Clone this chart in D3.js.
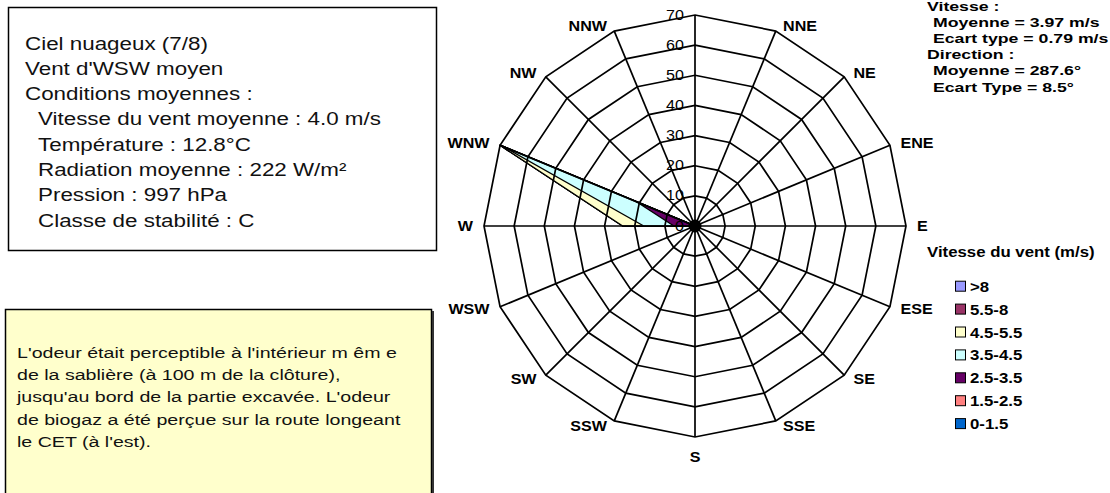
<!DOCTYPE html>
<html>
<head>
<meta charset="utf-8">
<script src="https://cdn.jsdelivr.net/npm/d3@7"></script>
<style>
body { margin: 0; background: #fff; }
text { font-family: Arial, "Liberation Sans", sans-serif; fill: #000; }
</style>
</head>
<body>
<svg id="chart" width="1110" height="493"></svg>
<script>
// data

var directions = ["N","NNE","NE","ENE","E","ESE","SE","SSE","S","SSW","SW","WSW","W","WNW","NW","NNW"];
var speedClasses = [">8","5.5-8","4.5-5.5","3.5-4.5","2.5-3.5","1.5-2.5","0-1.5"];
var classColors = ["#9999ff","#993366","#ffffcc","#ccffff","#660066","#ff8080","#0066cc"];

// cumulative frequencies (%) by direction, largest class first
var cumOver8  = [0,0,0,0,0,0,0,0,0,0,0,0,24,70,0,0];
var cum55to8  = [0,0,0,0,0,0,0,0,0,0,0,0,24,70,0,0];
var cum45to55 = [0,0,0,0,0,0,0,0,0,0,0,0,24,70,0,0];
var cum35to45 = [0,0,0,0,0,0,0,0,0,0,0,0,17,69,0,0];
var cum25to35 = [0,0,0,0,0,0,0,0,0,0,0,0,7,21,0,0];
var cum15to25 = [0,0,0,0,0,0,0,0,0,0,0,0,0,0,0,0];
var cum0to15  = [0,0,0,0,0,0,0,0,0,0,0,0,0,0,0,0];
var classSeries = [cumOver8, cum55to8, cum45to55, cum35to45, cum25to35, cum15to25, cum0to15];

var radialTicks = [0,10,20,30,40,50,60,70];

var weatherLines = [
  "Ciel nuageux (7/8)",
  "Vent d'WSW moyen",
  "Conditions moyennes :",
  " Vitesse du vent moyenne : 4.0 m/s",
  " Température : 12.8°C",
  " Radiation moyenne : 222 W/m²",
  " Pression : 997 hPa",
  " Classe de stabilité : C"
];

var odourLines = [
  "L'odeur était perceptible à l'intérieur m êm e",
  "de la sablière (à 100 m de la clôture),",
  "jusqu'au bord de la partie excavée. L'odeur",
  "de biogaz a été perçue sur la route longeant",
  "le CET (à l'est)."
];

var statsLines = [
  "Vitesse :",
  " Moyenne = 3.97 m/s",
  " Ecart type = 0.79 m/s",
  "Direction :",
  " Moyenne = 287.6°",
  " Ecart Type = 8.5°"
];

var legendTitle = "Vitesse du vent (m/s)";

// globals

var svg = d3.select("#chart");
var cx = 695, cy = 226;
var rScale = d3.scaleLinear().domain([0, 70]).range([0, 211]);
var angleOf = function(i) { return i * 2 * Math.PI / directions.length; };

// text stretched horizontally like the original

function wideText(parent, x, y, str, size, weight, anchor, sx)
{
  return parent.append("text")
    .attr("transform", "translate(" + x + "," + y + ") scale(" + sx + ",1)")
    .attr("text-anchor", anchor)
    .style("font-size", size + "px")
    .style("font-weight", weight)
    .text(str);
}

// left boxes

svg.append("rect")
  .attr("x", 8.5).attr("y", 7.5).attr("width", 428).attr("height", 243)
  .attr("fill", "#fff").attr("stroke", "#000").attr("stroke-width", 1.5);

weatherLines.forEach(function(line, i) {
  var indent = line.charAt(0) == " ";
  wideText(svg, indent ? 38 : 25, 49.5 + i * 25.3, line.trim(), 17.5, "normal", "start", 1.28)
    .style("fill", "#111");
});

svg.append("rect")
  .attr("x", 5.5).attr("y", 309.5).attr("width", 426).attr("height", 200)
  .attr("fill", "#ffffcc").attr("stroke", "#000").attr("stroke-width", 1.5);
svg.append("line")
  .attr("x1", 433).attr("x2", 433).attr("y1", 311).attr("y2", 493)
  .attr("stroke", "#333").attr("stroke-width", 2);

odourLines.forEach(function(line, i) {
  wideText(svg, 17, 358 + i * 22.2, line, 15.5, "normal", "start", 1.265)
    .style("fill", "#111");
});

// rose

var rose = svg.append("g").attr("transform", "translate(" + cx + "," + cy + ")");

var radial = d3.lineRadial()
  .angle(function(d, i) { return angleOf(i); })
  .radius(function(d) { return rScale(d); })
  .curve(d3.curveLinearClosed);

// filled series, largest cumulative first

rose.selectAll("path.petal")
  .data(classSeries)
  .enter()
  .append("path")
  .attr("class", "petal")
  .attr("d", radial)
  .attr("fill", function(d, i) { return classColors[i]; })
  .attr("stroke", "#000")
  .attr("stroke-width", 1.4)
  .attr("stroke-linejoin", "round");

// rings

rose.selectAll("path.ring")
  .data(radialTicks.slice(1))
  .enter()
  .append("path")
  .attr("class", "ring")
  .attr("d", function(t) { return radial(directions.map(function() { return t; })); })
  .attr("fill", "none")
  .attr("stroke", "#000")
  .attr("stroke-width", 1.7);

// spokes

rose.selectAll("line.spoke")
  .data(directions)
  .enter()
  .append("line")
  .attr("class", "spoke")
  .attr("x1", 0).attr("y1", 0)
  .attr("x2", function(d, i) { return d3.pointRadial(angleOf(i), rScale(70))[0]; })
  .attr("y2", function(d, i) { return d3.pointRadial(angleOf(i), rScale(70))[1]; })
  .attr("stroke", "#000")
  .attr("stroke-width", 1.7);

rose.append("circle").attr("r", 6.5).attr("fill", "#000");

// tick labels along north axis

radialTicks.forEach(function(t) {
  wideText(rose, -11, -rScale(t) + 4.5, t, 14, "normal", "end", 1.15);
});

// direction labels

directions.forEach(function(name, i) {
  if (i == 0) return;
  var a = angleOf(i);
  var p = d3.pointRadial(a, rScale(70));
  var s = Math.sin(a), c = Math.cos(a);
  if (Math.abs(s) < 0.01)
  {
    wideText(rose, p[0], p[1] + 25, name, 14, "bold", "middle", 1.15);
    return;
  }
  var gap = 5 + 6 * Math.abs(s);
  wideText(rose, p[0] + (s > 0 ? gap : -gap), p[1] - 6 * c + 5, name, 14, "bold", s > 0 ? "start" : "end", 1.15);
});

// stats

statsLines.forEach(function(line, i) {
  var indent = line.charAt(0) == " ";
  wideText(svg, indent ? 933 : 927, 11 + i * 16.1, line.trim(), 13.5, "bold", "start", 1.31);
});

// legend

wideText(svg, 927, 257, legendTitle, 14, "bold", "start", 1.2);

var legend = svg.selectAll("g.key")
  .data(speedClasses)
  .enter()
  .append("g")
  .attr("class", "key")
  .attr("transform", function(d, i) { return "translate(955," + (286.7 + i * 22.9) + ")"; });

legend.append("rect")
  .attr("x", 0.5).attr("y", -5.5).attr("width", 10).attr("height", 10)
  .attr("fill", function(d, i) { return classColors[i]; })
  .attr("stroke", "#000").attr("stroke-width", 1);

legend.each(function(d) {
  wideText(d3.select(this), 15, 5, d, 14, "bold", "start", 1.2);
});
</script>
</body>
</html>
